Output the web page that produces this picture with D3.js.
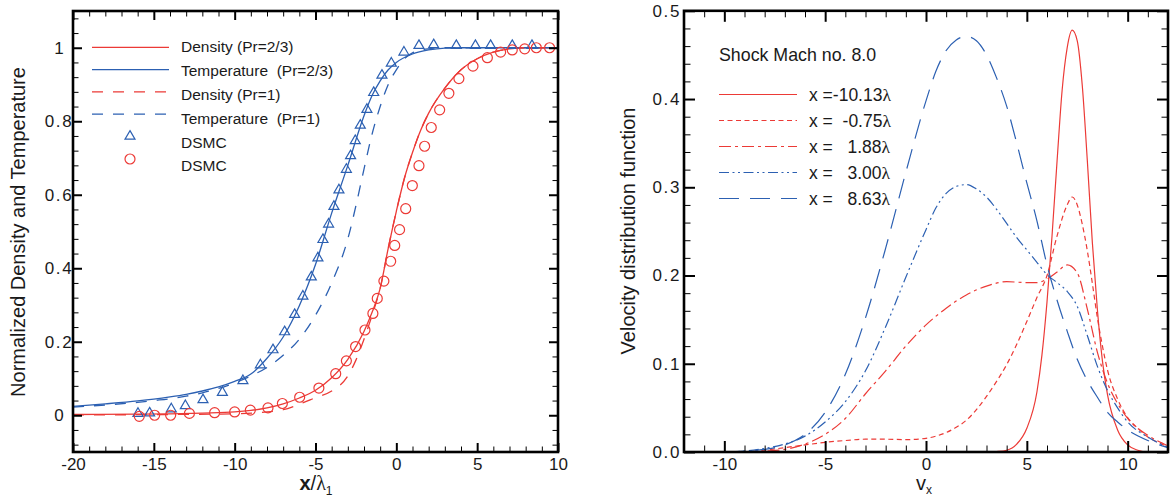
<!DOCTYPE html>
<html><head><meta charset="utf-8">
<script src="https://cdn.jsdelivr.net/npm/d3@7"></script>
<style>
body{margin:0;background:#fff;}
svg{display:block;font-family:"Liberation Sans",Arial,Helvetica,sans-serif;}
</style></head><body>
<svg id="chart" width="1173" height="498"></svg>
<script>
// ---------------- LEFT PANEL DATA ----------------
const leftXTicks = [-20, -15, -10, -5, 0, 5, 10];
const leftXTickLabels = ["-20", "-15", "-10", "-5", "0", "5", "10"];
const leftYTicks = [0, 0.2, 0.4, 0.6, 0.8, 1];
const leftYTickLabels = ["0", "0.2", "0.4", "0.6", "0.8", "1"];

const densityPr23 = [[-20,0.002],[-16,0.003],[-14,0.004],[-12,0.006],[-10,0.009],[-9,0.013],[-8,0.02],[-7,0.031],[-6,0.047],[-5,0.068],[-4,0.102],[-3,0.152],[-2,0.228],[-1.5,0.28],[-1,0.345],[-0.5,0.455],[0,0.555],[0.5,0.645],[1,0.715],[1.5,0.775],[2,0.822],[3,0.89],[4,0.94],[5,0.97],[6,0.988],[7,0.997],[8,1.0],[10,1.0]];
const temperaturePr23 = [[-20,0.024],[-18,0.031],[-16,0.039],[-15,0.044],[-14,0.05],[-13,0.057],[-12,0.066],[-11,0.077],[-10,0.092],[-9,0.112],[-8,0.155],[-7,0.213],[-6,0.298],[-5,0.41],[-4,0.55],[-3,0.68],[-2,0.815],[-1.5,0.87],[-1,0.91],[-0.5,0.94],[0,0.96],[1,0.983],[2,0.994],[3,0.999],[4,1.0],[10,1.0]];
const densityPr1 = [[-20,0.001],[-14,0.002],[-10,0.004],[-8,0.009],[-7,0.015],[-6,0.03],[-5,0.048],[-4,0.066],[-3,0.107],[-2.5,0.15],[-2,0.207],[-1.5,0.272],[-1,0.345],[-0.5,0.455],[0,0.555],[0.5,0.645],[1,0.715],[1.5,0.775],[2,0.822],[3,0.89],[4,0.94],[5,0.97],[6,0.988],[7,0.997],[8,1.0],[10,1.0]];
const temperaturePr1 = [[-20,0.022],[-18,0.028],[-16,0.035],[-15,0.04],[-14,0.045],[-13,0.052],[-12,0.061],[-11,0.073],[-10,0.088],[-9,0.107],[-8,0.13],[-7,0.163],[-6,0.207],[-5,0.272],[-4,0.36],[-3,0.48],[-2.5,0.57],[-2,0.67],[-1.5,0.765],[-1,0.84],[-0.5,0.9],[0,0.94],[0.5,0.97],[1,0.986],[2,0.997],[3,1.0],[10,1.0]];
const dsmcTemperature = [[-15.98,0.008],[-15.26,0.009],[-13.92,0.02],[-13.05,0.029],[-11.96,0.045],[-10.76,0.065],[-9.49,0.097],[-8.41,0.14],[-7.63,0.181],[-6.91,0.23],[-6.29,0.277],[-5.78,0.327],[-5.26,0.379],[-4.85,0.431],[-4.54,0.481],[-4.19,0.523],[-3.86,0.571],[-3.55,0.616],[-3.09,0.672],[-2.83,0.709],[-2.54,0.75],[-2.23,0.792],[-1.82,0.835],[-1.40,0.881],[-0.89,0.928],[-0.31,0.961],[0.47,0.991],[1.40,1.009],[2.31,1.011],[3.71,1.009],[4.89,1.009],[5.83,1.009],[7.17,1.009],[8.39,1.009]];
const dsmcDensity = [[-15.9,-0.003],[-14.95,0],[-13.96,0],[-12.8,0.005],[-11.24,0.007],[-10.0,0.009],[-9.03,0.014],[-7.94,0.02],[-7.05,0.032],[-5.98,0.049],[-4.79,0.074],[-3.75,0.113],[-3.09,0.148],[-2.52,0.187],[-1.94,0.232],[-1.45,0.277],[-1.18,0.318],[-0.77,0.365],[-0.35,0.419],[-0.1,0.462],[0.2,0.505],[0.58,0.562],[0.99,0.625],[1.40,0.679],[1.75,0.732],[2.16,0.783],[2.68,0.831],[3.25,0.876],[3.87,0.916],[4.74,0.950],[5.63,0.973],[6.45,0.988],[7.17,0.994],[7.94,0.997],[8.66,1.0],[9.48,1.0]];
const leftLegendLabels = ["Density (Pr=2/3)", "Temperature  (Pr=2/3)", "Density (Pr=1)", "Temperature  (Pr=1)", "DSMC", "DSMC"];

// ---------------- RIGHT PANEL DATA ----------------
const rightXTicks = [-10, -5, 0, 5, 10];
const rightXTickLabels = ["-10", "-5", "0", "5", "10"];
const rightYTicks = [0, 0.1, 0.2, 0.3, 0.4, 0.5];
const rightYTickLabels = ["0.0", "0.1", "0.2", "0.3", "0.4", "0.5"];

const vdfXm1013 = [[-12,0],[3,0],[3.5,0.0005],[4,0.002],[4.5,0.009],[5,0.027],[5.5,0.068],[5.75,0.11],[6,0.17],[6.25,0.245],[6.5,0.33],[6.75,0.41],[7,0.458],[7.25,0.478],[7.5,0.466],[7.75,0.415],[8,0.33],[8.25,0.237],[8.5,0.161],[8.75,0.103],[9,0.065],[9.5,0.025],[10,0.008],[10.5,0.002],[11,0],[12,0]];
const vdfXm075 = [[-9,0],[-8,0.002],[-7,0.005],[-6,0.008],[-5,0.011],[-4,0.013],[-3,0.0145],[-2,0.0145],[-1,0.014],[0,0.0155],[0.5,0.018],[1,0.022],[1.5,0.028],[2,0.036],[2.5,0.048],[3,0.063],[3.5,0.08],[4,0.099],[4.5,0.122],[5,0.148],[5.5,0.175],[6,0.2],[6.5,0.245],[7,0.28],[7.25,0.289],[7.5,0.28],[7.75,0.258],[8,0.228],[8.25,0.191],[8.5,0.152],[8.75,0.12],[9,0.093],[9.5,0.06],[10,0.039],[10.5,0.027],[11,0.017],[11.5,0.011],[12,0.006]];
const vdfX188 = [[-9,0],[-8,0.001],[-7,0.003],[-6,0.009],[-5,0.02],[-4,0.038],[-3,0.066],[-2,0.092],[-1,0.12],[0,0.144],[1,0.163],[2,0.178],[3,0.188],[4,0.193],[5,0.192],[5.5,0.192],[6,0.196],[6.5,0.204],[7,0.212],[7.5,0.203],[8,0.162],[8.5,0.113],[9,0.078],[9.5,0.055],[10,0.038],[11,0.019],[12,0.007]];
const vdfX300 = [[-10,0],[-9,0.001],[-8,0.004],[-7,0.009],[-6,0.018],[-5,0.034],[-4,0.057],[-3,0.092],[-2,0.142],[-1,0.198],[0,0.252],[0.5,0.277],[1,0.293],[1.5,0.301],[2,0.303],[2.5,0.298],[3,0.289],[3.5,0.275],[4,0.259],[4.5,0.243],[5,0.229],[5.5,0.215],[6,0.201],[6.5,0.192],[7,0.182],[7.5,0.165],[8,0.132],[8.5,0.097],[9,0.07],[9.5,0.05],[10,0.034],[11,0.017],[12,0.005]];
const vdfX863 = [[-10,0],[-9,0.001],[-8,0.003],[-7,0.008],[-6,0.02],[-5,0.045],[-4,0.088],[-3,0.152],[-2,0.231],[-1,0.317],[0,0.398],[0.5,0.432],[1,0.455],[1.5,0.467],[2,0.471],[2.5,0.466],[3,0.45],[3.5,0.424],[4,0.392],[4.5,0.35],[5,0.305],[5.5,0.262],[6,0.212],[6.5,0.172],[7,0.137],[7.5,0.105],[8,0.081],[8.5,0.062],[9,0.045],[9.5,0.034],[10,0.025],[11,0.013],[12,0.005]];
const rightLegendLabels = ["x =-10.13", "x =  -0.75", "x =   1.88", "x =   3.00", "x =   8.63"];
const rightLegendTitle = "Shock Mach no. 8.0";

// ---------------- DRAWING ----------------
const RED = "#ec3a36", BLUE = "#2c60b2";
const svg = d3.select("#chart");

function drawAxes(g, x, y, c) {
  const [xa, xb] = x.range(), [yb, ya] = y.range();
  const style = (sel, w) => { sel.select(".domain").remove(); sel.selectAll("line").attr("stroke", "#000").attr("stroke-width", w); };
  const fmtText = sel => sel.selectAll("text").attr("font-size", 17).attr("fill", "#1a1a1a")
      .attr("letter-spacing", function(){ return this.textContent.includes(".") ? "1.6px" : null; });
  // bottom
  g.append("g").attr("transform", `translate(0,${yb})`)
    .call(d3.axisBottom(x).tickValues(c.xTicks).tickSizeInner(-c.major).tickSizeOuter(0).tickPadding(6).tickFormat((d, i) => c.xLabels[i]))
    .call(s => style(s, 2)).call(fmtText);
  g.append("g").attr("transform", `translate(0,${yb})`)
    .call(d3.axisBottom(x).tickValues(c.xMinor).tickSizeInner(-c.minor).tickSizeOuter(0).tickFormat(""))
    .call(s => style(s, 1));
  // top
  g.append("g").attr("transform", `translate(0,${ya})`)
    .call(d3.axisTop(x).tickValues(c.xTicks).tickSizeInner(-c.major).tickSizeOuter(0).tickFormat(""))
    .call(s => style(s, 2));
  g.append("g").attr("transform", `translate(0,${ya})`)
    .call(d3.axisTop(x).tickValues(c.xMinor).tickSizeInner(-c.minor).tickSizeOuter(0).tickFormat(""))
    .call(s => style(s, 1));
  // left
  const la = g.append("g").attr("transform", `translate(${xa},0)`)
    .call(d3.axisLeft(y).tickValues(c.yTicks).tickSizeInner(-c.major).tickSizeOuter(0).tickPadding(c.yPad).tickFormat((d, i) => c.yLabels[i]))
    .call(s => style(s, 2)).call(fmtText);
  if (c.yAnchor) la.selectAll("text").attr("text-anchor", c.yAnchor);
  g.append("g").attr("transform", `translate(${xa},0)`)
    .call(d3.axisLeft(y).tickValues(c.yMinor).tickSizeInner(-c.minor).tickSizeOuter(0).tickFormat(""))
    .call(s => style(s, 1));
  // right
  g.append("g").attr("transform", `translate(${xb},0)`)
    .call(d3.axisRight(y).tickValues(c.yTicks).tickSizeInner(-c.major).tickSizeOuter(0).tickFormat(""))
    .call(s => style(s, 2));
  g.append("g").attr("transform", `translate(${xb},0)`)
    .call(d3.axisRight(y).tickValues(c.yMinor).tickSizeInner(-c.minor).tickSizeOuter(0).tickFormat(""))
    .call(s => style(s, 1));
  // frame
  g.append("rect").attr("x", xa).attr("y", ya).attr("width", xb - xa).attr("height", yb - ya)
    .attr("fill", "none").attr("stroke", "#000").attr("stroke-width", 2.6);
}

function clip(id, x, y) {
  const [xa, xb] = x.range(), [yb, ya] = y.range();
  svg.append("clipPath").attr("id", id).append("rect")
    .attr("x", xa).attr("y", ya).attr("width", xb - xa).attr("height", yb - ya);
}

// ----- Left panel -----
const xL = d3.scaleLinear().domain([-20, 10]).range([73, 558]);
const yL = d3.scaleLinear().domain([-0.1, 1.1]).range([452, 11]);
clip("clipL", xL, yL);
const gL = svg.append("g");
const plotL = gL.append("g").attr("clip-path", "url(#clipL)");
const lineL = d3.line().x(d => xL(d[0])).y(d => yL(d[1])).curve(d3.curveMonotoneX);

const leftSeries = [
  { data: densityPr23, color: RED, dash: null },
  { data: temperaturePr23, color: BLUE, dash: null },
  { data: densityPr1, color: RED, dash: "11,10" },
  { data: temperaturePr1, color: BLUE, dash: "11,10" }
];
leftSeries.forEach(s => {
  plotL.append("path").datum(s.data).attr("d", lineL).attr("fill", "none")
    .attr("stroke", s.color).attr("stroke-width", 1.3).attr("stroke-dasharray", s.dash);
});
const triPath = "M0,-4.6L5,4L-5,4Z";
plotL.selectAll(".tri").data(dsmcTemperature).join("path").attr("class", "tri")
  .attr("d", triPath).attr("transform", d => `translate(${xL(d[0])},${yL(d[1])})`)
  .attr("fill", "none").attr("stroke", BLUE).attr("stroke-width", 1.2);
plotL.selectAll(".circ").data(dsmcDensity).join("circle").attr("class", "circ")
  .attr("cx", d => xL(d[0])).attr("cy", d => yL(d[1])).attr("r", 5)
  .attr("fill", "none").attr("stroke", RED).attr("stroke-width", 1.2);

drawAxes(gL, xL, yL, {
  xTicks: leftXTicks, xLabels: leftXTickLabels, xMinor: d3.range(-20, 11).filter(v => v % 5 !== 0),
  yTicks: leftYTicks, yLabels: leftYTickLabels, yMinor: d3.range(-2, 28).filter(i => i % 5 !== 0).map(i => i * 0.04),
  major: 9, minor: 5.5, yPad: 14, yAnchor: "middle"
});

// left legend
const legL = gL.append("g");
const legLStyle = [
  { color: RED, dash: null, kind: "line" }, { color: BLUE, dash: null, kind: "line" },
  { color: RED, dash: "11,10", kind: "line" }, { color: BLUE, dash: "11,10", kind: "line" },
  { color: BLUE, kind: "tri" }, { color: RED, kind: "circ" }
];
leftLegendLabels.forEach((lab, i) => {
  const st = legLStyle[i];
  const ty = 47 + i * 23.8;
  if (st.kind === "line") {
    const ly = 47.3 + i * 22.3;
    legL.append("line").attr("x1", 92).attr("x2", 169).attr("y1", ly).attr("y2", ly)
      .attr("stroke", st.color).attr("stroke-width", 1.3).attr("stroke-dasharray", st.dash);
  } else if (st.kind === "tri") {
    legL.append("path").attr("d", triPath).attr("transform", `translate(130,${ty - 7})`)
      .attr("fill", "none").attr("stroke", st.color).attr("stroke-width", 1.2);
  } else {
    legL.append("circle").attr("cx", 130).attr("cy", ty - 7).attr("r", 5)
      .attr("fill", "none").attr("stroke", st.color).attr("stroke-width", 1.2);
  }
  legL.append("text").attr("x", 181).attr("y", ty).attr("dy", "0.35em")
    .attr("font-size", 15.5).attr("fill", "#1a1a1a").attr("xml:space", "preserve")
    .style("white-space", "pre").text(lab);
});

// left axis titles
gL.append("text").attr("transform", "translate(18,232) rotate(-90)").attr("dy", "0.35em")
  .attr("text-anchor", "middle").attr("font-size", 20).attr("fill", "#1a1a1a")
  .text("Normalized Density and Temperature");
const xt = gL.append("text").attr("x", 316).attr("y", 490).attr("text-anchor", "middle")
  .attr("font-size", 20).attr("fill", "#1a1a1a");
xt.append("tspan").attr("font-weight", "bold").text("x");
xt.append("tspan").text("/");
xt.append("tspan").attr("font-family", "'Liberation Serif','Times New Roman',serif").text("λ");
xt.append("tspan").attr("font-size", 12).attr("dy", 5).text("1");

// ----- Right panel -----
const xR = d3.scaleLinear().domain([-12, 12]).range([684, 1168]);
const yR = d3.scaleLinear().domain([0, 0.5]).range([452, 10.8]);
clip("clipR", xR, yR);
const gR = svg.append("g");
const plotR = gR.append("g").attr("clip-path", "url(#clipR)");
const lineR = d3.line().x(d => xR(d[0])).y(d => yR(d[1])).curve(d3.curveMonotoneX);
const rightStyles = [
  { color: RED, dash: null },
  { color: RED, dash: "5,3.5" },
  { color: RED, dash: "12,4,3,4" },
  { color: BLUE, dash: "10,3.5,2,3.5,2,3.5" },
  { color: BLUE, dash: "20,11" }
];
[vdfXm1013, vdfXm075, vdfX188, vdfX300, vdfX863].forEach((data, i) => {
  plotR.append("path").datum(data).attr("d", lineR).attr("fill", "none")
    .attr("stroke", rightStyles[i].color).attr("stroke-width", 1.2)
    .attr("stroke-dasharray", rightStyles[i].dash);
});

drawAxes(gR, xR, yR, {
  xTicks: rightXTicks, xLabels: rightXTickLabels, xMinor: d3.range(-12, 13).filter(v => v % 5 !== 0),
  yTicks: rightYTicks, yLabels: rightYTickLabels, yMinor: d3.range(0, 26).filter(i => i % 5 !== 0).map(i => i * 0.02),
  major: 11, minor: 6.5, yPad: 3, yAnchor: null
});

// right legend
const legR = gR.append("g");
legR.append("text").attr("x", 719).attr("y", 55).attr("dy", "0.35em").attr("font-size", 17.8)
  .attr("fill", "#1a1a1a").text(rightLegendTitle);
rightLegendLabels.forEach((lab, i) => {
  const ly = 94.5 + i * 26;
  legR.append("line").attr("x1", 719).attr("x2", 797).attr("y1", ly).attr("y2", ly)
    .attr("stroke", rightStyles[i].color).attr("stroke-width", 1.2).attr("stroke-dasharray", rightStyles[i].dash);
  const t = legR.append("text").attr("x", 809).attr("y", ly).attr("dy", "0.35em").attr("font-size", 17.5)
    .attr("fill", "#1a1a1a").attr("xml:space", "preserve").style("white-space", "pre");
  t.append("tspan").text(lab);
  t.append("tspan").attr("font-family", "'Liberation Serif','Times New Roman',serif").text("λ");
});

// right axis titles
gR.append("text").attr("transform", "translate(628,231) rotate(-90)").attr("dy", "0.35em")
  .attr("text-anchor", "middle").attr("font-size", 20).attr("fill", "#1a1a1a")
  .text("Velocity distribution function");
const vt = gR.append("text").attr("x", 924).attr("y", 490).attr("text-anchor", "middle")
  .attr("font-size", 20).attr("fill", "#1a1a1a");
vt.append("tspan").text("v");
vt.append("tspan").attr("font-size", 12).attr("dy", 4).text("x");
</script>
</body></html>
